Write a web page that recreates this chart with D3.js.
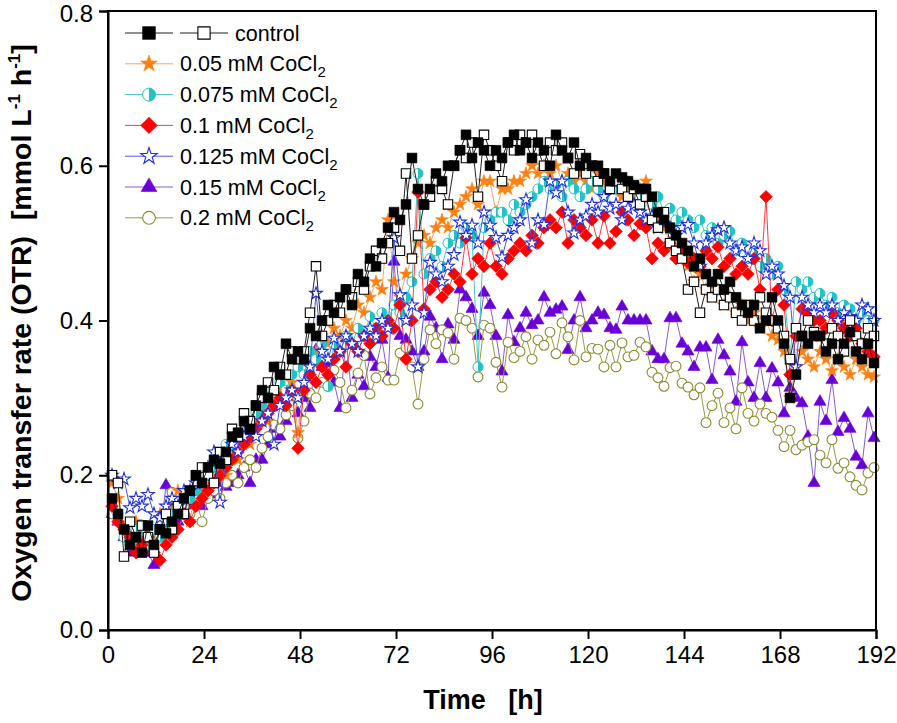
<!DOCTYPE html>
<html>
<head>
<meta charset="utf-8">
<script src="https://cdn.jsdelivr.net/npm/d3@7"></script>
<style>
  body { margin: 0; background: #fff; }
  svg { display: block; font-family: "Liberation Sans", Arial, sans-serif; }
</style>
</head>
<body>
<svg id="chart" width="897" height="723"></svg>
<script>
// ---------- DATA ----------
const hours = d3.range(1, 192, 1.5); // sampling times [h]
const xTicks = [0, 24, 48, 72, 96, 120, 144, 168, 192];
const yTicks = [0.0, 0.2, 0.4, 0.6, 0.8];

const controlA = [0.17,0.15,0.13,0.11,0.12,0.10,0.135,0.11,0.13,0.125,0.14,0.15,0.17,0.18,0.20,0.19,0.21,0.22,0.215,0.23,0.25,0.255,0.27,0.26,0.29,0.31,0.30,0.34,0.33,0.37,0.35,0.36,0.35,0.39,0.38,0.40,0.42,0.41,0.43,0.44,0.42,0.46,0.45,0.48,0.47,0.50,0.52,0.54,0.53,0.55,0.61,0.57,0.55,0.57,0.59,0.58,0.60,0.60,0.62,0.64,0.61,0.63,0.62,0.60,0.62,0.61,0.63,0.64,0.62,0.63,0.61,0.63,0.62,0.60,0.64,0.62,0.61,0.63,0.60,0.61,0.60,0.60,0.59,0.58,0.59,0.585,0.58,0.575,0.57,0.57,0.56,0.54,0.53,0.52,0.51,0.50,0.49,0.47,0.48,0.46,0.45,0.46,0.44,0.45,0.43,0.42,0.41,0.42,0.39,0.40,0.43,0.40,0.37,0.30,0.33,0.38,0.37,0.38,0.38,0.36,0.37,0.35,0.37,0.385,0.36,0.35,0.37,0.345];
const controlB = [0.20,0.19,0.095,0.14,0.12,0.135,0.12,0.10,0.13,0.15,0.13,0.16,0.15,0.18,0.20,0.21,0.20,0.19,0.23,0.22,0.26,0.25,0.28,0.27,0.29,0.30,0.32,0.31,0.34,0.33,0.36,0.35,0.36,0.41,0.47,0.38,0.40,0.42,0.41,0.44,0.43,0.45,0.44,0.47,0.49,0.48,0.50,0.52,0.49,0.59,0.48,0.51,0.55,0.56,0.58,0.57,0.55,0.60,0.62,0.61,0.63,0.56,0.64,0.62,0.60,0.58,0.63,0.62,0.64,0.63,0.64,0.62,0.60,0.63,0.62,0.63,0.61,0.59,0.615,0.59,0.60,0.58,0.59,0.57,0.58,0.57,0.56,0.57,0.55,0.56,0.53,0.52,0.54,0.50,0.49,0.48,0.44,0.45,0.41,0.44,0.43,0.44,0.42,0.43,0.41,0.40,0.42,0.40,0.43,0.41,0.40,0.39,0.38,0.35,0.39,0.38,0.40,0.385,0.38,0.37,0.39,0.38,0.36,0.40,0.38,0.37,0.39,0.38];
const co005 = [0.19,0.17,0.13,0.12,0.14,0.11,0.13,0.12,0.15,0.14,0.16,0.18,0.17,0.14,0.19,0.18,0.20,0.19,0.21,0.20,0.23,0.22,0.25,0.24,0.26,0.28,0.27,0.29,0.31,0.30,0.32,0.255,0.31,0.34,0.36,0.38,0.37,0.39,0.38,0.40,0.39,0.42,0.41,0.43,0.45,0.44,0.53,0.45,0.43,0.46,0.48,0.50,0.51,0.50,0.52,0.53,0.52,0.54,0.55,0.56,0.57,0.55,0.58,0.58,0.54,0.57,0.57,0.58,0.58,0.59,0.60,0.59,0.60,0.59,0.60,0.58,0.59,0.58,0.59,0.58,0.57,0.59,0.58,0.57,0.58,0.56,0.57,0.56,0.57,0.58,0.55,0.53,0.52,0.50,0.49,0.48,0.47,0.45,0.46,0.44,0.43,0.44,0.42,0.43,0.41,0.42,0.40,0.41,0.39,0.40,0.38,0.375,0.36,0.30,0.34,0.36,0.35,0.34,0.36,0.35,0.335,0.35,0.34,0.33,0.35,0.34,0.33,0.327];
const co0075 = [0.16,0.15,0.12,0.11,0.13,0.12,0.11,0.13,0.12,0.14,0.15,0.16,0.15,0.17,0.18,0.20,0.19,0.21,0.22,0.24,0.23,0.25,0.26,0.27,0.28,0.29,0.30,0.31,0.32,0.31,0.33,0.34,0.33,0.36,0.35,0.37,0.315,0.37,0.36,0.38,0.37,0.39,0.38,0.405,0.39,0.41,0.40,0.42,0.41,0.43,0.45,0.59,0.46,0.48,0.49,0.47,0.50,0.51,0.50,0.52,0.51,0.34,0.52,0.53,0.54,0.54,0.53,0.55,0.54,0.55,0.56,0.57,0.58,0.57,0.575,0.56,0.58,0.57,0.56,0.57,0.58,0.57,0.56,0.575,0.57,0.58,0.58,0.57,0.56,0.57,0.55,0.56,0.54,0.545,0.53,0.54,0.53,0.52,0.53,0.51,0.52,0.50,0.51,0.515,0.49,0.50,0.48,0.49,0.47,0.48,0.46,0.47,0.44,0.35,0.45,0.44,0.45,0.43,0.435,0.42,0.43,0.41,0.42,0.415,0.40,0.41,0.40,0.40];
const co01 = [0.16,0.14,0.13,0.12,0.10,0.11,0.12,0.10,0.09,0.11,0.12,0.13,0.15,0.14,0.16,0.17,0.18,0.19,0.20,0.21,0.22,0.23,0.24,0.25,0.26,0.27,0.28,0.29,0.30,0.29,0.31,0.235,0.31,0.33,0.32,0.34,0.33,0.35,0.36,0.34,0.37,0.36,0.38,0.37,0.39,0.38,0.40,0.39,0.42,0.35,0.40,0.566,0.415,0.44,0.45,0.43,0.44,0.46,0.45,0.507,0.46,0.48,0.47,0.50,0.47,0.46,0.48,0.49,0.50,0.49,0.51,0.50,0.52,0.53,0.52,0.54,0.50,0.53,0.52,0.51,0.53,0.50,0.535,0.50,0.515,0.54,0.53,0.51,0.525,0.52,0.48,0.50,0.49,0.50,0.48,0.49,0.475,0.48,0.47,0.49,0.48,0.495,0.47,0.48,0.46,0.47,0.46,0.48,0.44,0.56,0.40,0.44,0.42,0.33,0.38,0.415,0.41,0.40,0.40,0.39,0.41,0.40,0.39,0.38,0.39,0.37,0.36,0.353];
const co0125 = [0.20,0.19,0.195,0.158,0.17,0.16,0.175,0.15,0.145,0.16,0.17,0.16,0.18,0.18,0.19,0.20,0.21,0.23,0.165,0.22,0.24,0.23,0.25,0.26,0.25,0.27,0.28,0.24,0.29,0.30,0.31,0.30,0.32,0.34,0.435,0.36,0.35,0.377,0.36,0.38,0.37,0.36,0.38,0.39,0.38,0.40,0.39,0.507,0.433,0.40,0.42,0.34,0.41,0.475,0.46,0.45,0.47,0.485,0.527,0.51,0.523,0.50,0.54,0.523,0.507,0.482,0.51,0.52,0.53,0.556,0.50,0.53,0.524,0.58,0.565,0.58,0.54,0.513,0.53,0.535,0.55,0.54,0.56,0.545,0.55,0.53,0.545,0.55,0.54,0.53,0.535,0.52,0.525,0.52,0.51,0.52,0.524,0.50,0.47,0.50,0.51,0.517,0.52,0.50,0.49,0.495,0.48,0.50,0.49,0.46,0.47,0.46,0.445,0.43,0.34,0.43,0.42,0.41,0.42,0.41,0.42,0.40,0.41,0.405,0.40,0.42,0.415,0.40];
const co015 = [0.15,0.14,0.12,0.10,0.13,0.11,0.10,0.084,0.12,0.187,0.15,0.14,0.16,0.157,0.17,0.16,0.18,0.175,0.19,0.185,0.19,0.20,0.21,0.19,0.22,0.22,0.24,0.26,0.25,0.27,0.29,0.28,0.30,0.287,0.362,0.34,0.345,0.32,0.287,0.377,0.30,0.33,0.315,0.353,0.34,0.375,0.326,0.476,0.38,0.375,0.36,0.34,0.36,0.405,0.39,0.35,0.395,0.375,0.44,0.43,0.415,0.38,0.436,0.42,0.38,0.334,0.407,0.372,0.39,0.41,0.394,0.40,0.43,0.41,0.414,0.418,0.362,0.40,0.43,0.39,0.40,0.41,0.407,0.39,0.388,0.418,0.40,0.40,0.40,0.40,0.36,0.35,0.35,0.403,0.403,0.37,0.36,0.34,0.365,0.365,0.323,0.375,0.355,0.334,0.295,0.372,0.32,0.30,0.345,0.30,0.338,0.32,0.28,0.313,0.30,0.293,0.25,0.19,0.295,0.27,0.323,0.256,0.274,0.26,0.224,0.213,0.28,0.248];
const co02 = [0.15,0.14,0.13,0.12,0.114,0.12,0.11,0.10,0.135,0.15,0.178,0.15,0.16,0.15,0.17,0.14,0.17,0.18,0.17,0.19,0.20,0.19,0.21,0.22,0.21,0.235,0.25,0.265,0.26,0.278,0.29,0.248,0.27,0.306,0.30,0.32,0.315,0.336,0.32,0.287,0.31,0.332,0.355,0.305,0.326,0.34,0.323,0.323,0.358,0.365,0.34,0.292,0.35,0.388,0.37,0.388,0.384,0.35,0.403,0.40,0.39,0.327,0.394,0.39,0.346,0.314,0.372,0.352,0.36,0.379,0.35,0.375,0.368,0.385,0.357,0.397,0.379,0.349,0.40,0.353,0.364,0.363,0.34,0.368,0.34,0.371,0.353,0.355,0.372,0.366,0.333,0.326,0.315,0.339,0.341,0.319,0.314,0.304,0.313,0.268,0.29,0.306,0.268,0.287,0.26,0.313,0.28,0.27,0.292,0.28,0.275,0.258,0.237,0.258,0.233,0.239,0.243,0.246,0.226,0.216,0.246,0.209,0.216,0.198,0.187,0.181,0.203,0.21];

const labels = ["control", "0.05 mM CoCl", "0.075 mM CoCl", "0.1 mM CoCl", "0.125 mM CoCl", "0.15 mM CoCl", "0.2 mM CoCl"];

// ---------- STYLE ----------
const series = [
  { key: "co015",  values: co015,  marker: "triangle", fill: "#6a00d8", stroke: "#6a00d8", line: "#8a5ad0" },
  { key: "co02",   values: co02,   marker: "circle",   fill: "#ffffff", stroke: "#8a8a2a", line: "#9a9a48" },
  { key: "co005",  values: co005,  marker: "star",     fill: "#ff8010", stroke: "#ff8010", line: "#f0a868" },
  { key: "co0075", values: co0075, marker: "half",     fill: "#20c4c4", stroke: "#20c4c4", line: "#40c8c8" },
  { key: "co01",   values: co01,   marker: "diamond",  fill: "#ff0000", stroke: "#ff0000", line: "#ff3a3a" },
  { key: "co0125", values: co0125, marker: "ostar",    fill: "#ffffff", stroke: "#2030e0", line: "#4a58e0" },
  { key: "controlB", values: controlB, marker: "osquare", fill: "#ffffff", stroke: "#000000", line: "#222222" },
  { key: "controlA", values: controlA, marker: "square",  fill: "#000000", stroke: "#000000", line: "#222222" }
];

const x0 = 108, x1 = 876, y0 = 630, y1 = 11;

const svg = d3.select("#chart");
const x = d3.scaleLinear().domain([0, 192]).range([x0, x1]);
const y = d3.scaleLinear().domain([0, 0.8]).range([y0, y1]);

function drawMarker(g, type, s, k = 1) {
  const a = k * k;
  const sym = {
    triangle: d3.symbol(d3.symbolTriangle, 64 * a),
    circle: d3.symbol(d3.symbolCircle, 76 * a),
    star: d3.symbol(d3.symbolStar, 52 * a),
    ostar: d3.symbol(d3.symbolStar, 50 * a),
    diamond: d3.symbol(d3.symbolSquare, 80 * a),
    square: d3.symbol(d3.symbolSquare, 96 * a),
    osquare: d3.symbol(d3.symbolSquare, 88 * a)
  };
  if (type === "half") {
    const r = 5 * k;
    g.append("circle").attr("r", r).attr("fill", "#fff").attr("stroke", s.stroke).attr("stroke-width", 1);
    g.append("path").attr("d", d3.arc()({ innerRadius: 0, outerRadius: r, startAngle: 0, endAngle: Math.PI }))
      .attr("fill", s.fill);
    return;
  }
  const p = g.append("path").attr("d", sym[type]());
  if (type === "diamond") p.attr("transform", "rotate(45)");
  p.attr("fill", s.fill).attr("stroke", s.stroke)
   .attr("stroke-width", (type === "osquare" || type === "circle" || type === "ostar") ? 1.1 : 0.6)
   .attr("stroke-linejoin", "miter");
}

// ---------- SERIES ----------
const lineGen = d3.line().x((d, i) => x(hours[i])).y(d => y(d));
series.forEach(s => {
  const g = svg.append("g").attr("class", "series " + s.key);
  g.append("path").datum(s.values).attr("d", lineGen)
    .attr("fill", "none").attr("stroke", s.line).attr("stroke-width", 1);
  s.values.forEach((v, i) => {
    const m = g.append("g").attr("transform", `translate(${x(hours[i])},${y(v)})`);
    drawMarker(m, s.marker, s);
  });
});

// ---------- AXES / FRAME ----------
svg.append("rect").attr("x", x0).attr("y", y1).attr("width", x1 - x0).attr("height", y0 - y1)
  .attr("fill", "none").attr("stroke", "#000").attr("stroke-width", 2);

const xAxis = svg.append("g").attr("transform", `translate(0,${y0})`)
  .call(d3.axisBottom(x).tickValues(xTicks).tickSize(9).tickPadding(7).tickFormat(d3.format("d")));
xAxis.select(".domain").attr("stroke-width", 2);
xAxis.selectAll(".tick line").attr("stroke-width", 2);
xAxis.selectAll(".tick text").attr("font-size", 24).attr("fill", "#000")
  .attr("font-family", "'Liberation Sans Narrow', 'Liberation Sans', Arial, sans-serif");

const yAxis = svg.append("g").attr("transform", `translate(${x0},0)`)
  .call(d3.axisLeft(y).tickValues(yTicks).tickSize(9).tickPadding(6).tickFormat(d3.format(".1f")));
yAxis.select(".domain").attr("stroke-width", 2);
yAxis.selectAll(".tick line").attr("stroke-width", 2);
yAxis.selectAll(".tick text").attr("font-size", 24).attr("fill", "#000")
  .attr("dy", d => d === 0.8 ? "0.42em" : "0.32em");

// axis titles
svg.append("text").attr("x", 483).attr("y", 709).attr("text-anchor", "middle")
  .attr("font-size", 27).attr("font-weight", "bold")
  .attr("font-family", "'Liberation Sans Narrow', 'Liberation Sans', Arial, sans-serif")
  .attr("xml:space", "preserve").text("Time   [h]");

const yt = svg.append("text").attr("transform", "translate(31,323) rotate(-90)")
  .attr("text-anchor", "middle").attr("font-size", 28.5).attr("font-weight", "bold")
  .attr("xml:space", "preserve");
yt.append("tspan").text("Oxygen transfer rate (OTR)  [mmol L");
yt.append("tspan").attr("font-size", 17).attr("dy", -11).text("-1");
yt.append("tspan").attr("dy", 11).text(" h");
yt.append("tspan").attr("font-size", 17).attr("dy", -11).text("-1");
yt.append("tspan").attr("dy", 11).text("]");

// ---------- LEGEND ----------
const legendOrder = [
  { label: labels[0], styles: [series[7], series[6]] },
  { label: labels[1], styles: [series[2]] },
  { label: labels[2], styles: [series[3]] },
  { label: labels[3], styles: [series[4]] },
  { label: labels[4], styles: [series[5]] },
  { label: labels[5], styles: [series[0]] },
  { label: labels[6], styles: [series[1]] }
];
const lg = svg.append("g");
legendOrder.forEach((row, r) => {
  const cy = 33 + r * 30.8;
  row.styles.forEach((s, k) => {
    const lx = 125 + k * 55;
    lg.append("line").attr("x1", lx).attr("x2", lx + 48).attr("y1", cy).attr("y2", cy)
      .attr("stroke", s.line).attr("stroke-width", 1);
    const m = lg.append("g").attr("transform", `translate(${lx + 24},${cy})`);
    drawMarker(m, s.marker, s, 1.3);
  });
  const tx = row.styles.length > 1 ? 235 : 180;
  const t = lg.append("text").attr("x", tx).attr("y", cy + 7.5).attr("font-size", 21.5).attr("fill", "#000");
  t.append("tspan").text(row.label);
  if (r > 0) t.append("tspan").attr("font-size", 15).attr("dy", 6).text("2");
});
</script>
</body>
</html>
